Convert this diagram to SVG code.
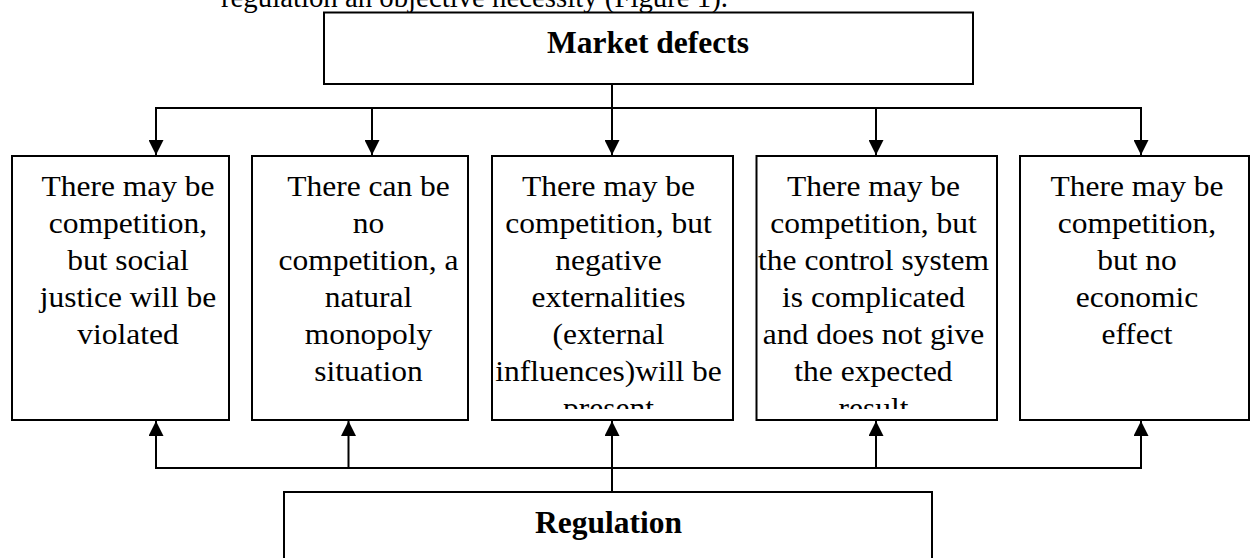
<svg xmlns="http://www.w3.org/2000/svg" width="1250" height="558" viewBox="0 0 1250 558">
<style>
.box{fill:#fff;stroke:#000;stroke-width:2}
.ln{fill:none;stroke:#000;stroke-width:2}
.t{font-family:"Liberation Serif","Times New Roman",serif;font-size:30px;fill:#000;text-anchor:middle}
.b{font-family:"Liberation Serif","Times New Roman",serif;font-size:31.5px;font-weight:bold;fill:#000;text-anchor:middle}
.p{font-family:"Liberation Serif","Times New Roman",serif;font-size:28.8px;fill:#000}
</style>
<defs>
<marker id="ah" markerUnits="userSpaceOnUse" markerWidth="15" markerHeight="15" refX="15" refY="7.5" orient="auto">
<path d="M0,0 L15,7.5 L0,15 Z" fill="#000"/>
</marker>
<clipPath id="c1"><rect x="13" y="157" width="215" height="252"/></clipPath>
<clipPath id="c2"><rect x="253" y="157" width="214" height="252"/></clipPath>
<clipPath id="c3"><rect x="493" y="157" width="239" height="252"/></clipPath>
<clipPath id="c4"><rect x="757" y="157" width="239" height="252"/></clipPath>
<clipPath id="c5"><rect x="1021" y="157" width="227" height="252"/></clipPath>
</defs>
<rect width="1250" height="558" fill="#fff"/>
<text class="p" x="221" y="6.5">regulation an objective necessity (Figure 1).</text>

<g id="connectors">
<line class="ln" x1="612" y1="84" x2="612" y2="108"/>
<line class="ln" x1="155" y1="108" x2="1142" y2="108"/>
<line class="ln" x1="156" y1="108" x2="156" y2="155" marker-end="url(#ah)"/>
<line class="ln" x1="372" y1="108" x2="372" y2="155" marker-end="url(#ah)"/>
<line class="ln" x1="612" y1="108" x2="612" y2="155" marker-end="url(#ah)"/>
<line class="ln" x1="876" y1="108" x2="876" y2="155" marker-end="url(#ah)"/>
<line class="ln" x1="1141" y1="108" x2="1141" y2="155" marker-end="url(#ah)"/>
<line class="ln" x1="155" y1="468" x2="1142" y2="468"/>
<line class="ln" x1="612" y1="492" x2="612" y2="468"/>
<line class="ln" x1="156" y1="468" x2="156" y2="421" marker-end="url(#ah)"/>
<line class="ln" x1="348.5" y1="468" x2="348.5" y2="421" marker-end="url(#ah)"/>
<line class="ln" x1="612" y1="468" x2="612" y2="421" marker-end="url(#ah)"/>
<line class="ln" x1="876" y1="468" x2="876" y2="421" marker-end="url(#ah)"/>
<line class="ln" x1="1141" y1="468" x2="1141" y2="421" marker-end="url(#ah)"/>
</g>

<g id="market-defects">
<rect class="box" x="324" y="12.5" width="649" height="71.5"/>
<text class="b" x="648" y="53">Market defects</text>
</g>

<g id="box1">
<rect class="box" x="12" y="156" width="217" height="264"/>
<g clip-path="url(#c1)"><g transform="translate(128 0) scale(1.05 1)">
<text class="t" x="0" y="196">There may be</text>
<text class="t" x="0" y="233">competition,</text>
<text class="t" x="0" y="270">but social</text>
<text class="t" x="0" y="307">justice will be</text>
<text class="t" x="0" y="344">violated</text>
</g></g>
</g>

<g id="box2">
<rect class="box" x="252" y="156" width="216" height="264"/>
<g clip-path="url(#c2)"><g transform="translate(368.5 0) scale(1.05 1)">
<text class="t" x="0" y="196">There can be</text>
<text class="t" x="0" y="233">no</text>
<text class="t" x="0" y="270">competition, a</text>
<text class="t" x="0" y="307">natural</text>
<text class="t" x="0" y="344">monopoly</text>
<text class="t" x="0" y="381">situation</text>
</g></g>
</g>

<g id="box3">
<rect class="box" x="492" y="156" width="241" height="264"/>
<g clip-path="url(#c3)"><g transform="translate(608.5 0) scale(1.05 1)">
<text class="t" x="0" y="196">There may be</text>
<text class="t" x="0" y="233">competition, but</text>
<text class="t" x="0" y="270">negative</text>
<text class="t" x="0" y="307">externalities</text>
<text class="t" x="0" y="344">(external</text>
<text class="t" x="0" y="381">influences)will be</text>
<text class="t" x="0" y="418">present</text>
</g></g>
</g>

<g id="box4">
<rect class="box" x="756.5" y="156" width="240.5" height="264"/>
<g clip-path="url(#c4)"><g transform="translate(873.5 0) scale(1.05 1)">
<text class="t" x="0" y="196">There may be</text>
<text class="t" x="0" y="233">competition, but</text>
<text class="t" x="0" y="270">the control system</text>
<text class="t" x="0" y="307">is complicated</text>
<text class="t" x="0" y="344">and does not give</text>
<text class="t" x="0" y="381">the expected</text>
<text class="t" x="0" y="418">result</text>
</g></g>
</g>

<g id="box5">
<rect class="box" x="1020" y="156" width="229" height="264"/>
<g clip-path="url(#c5)"><g transform="translate(1137 0) scale(1.05 1)">
<text class="t" x="0" y="196">There may be</text>
<text class="t" x="0" y="233">competition,</text>
<text class="t" x="0" y="270">but no</text>
<text class="t" x="0" y="307">economic</text>
<text class="t" x="0" y="344">effect</text>
</g></g>
</g>

<g id="regulation">
<rect class="box" x="284" y="492" width="648" height="80"/>
<text class="b" x="608.5" y="533">Regulation</text>
</g>
</svg>
